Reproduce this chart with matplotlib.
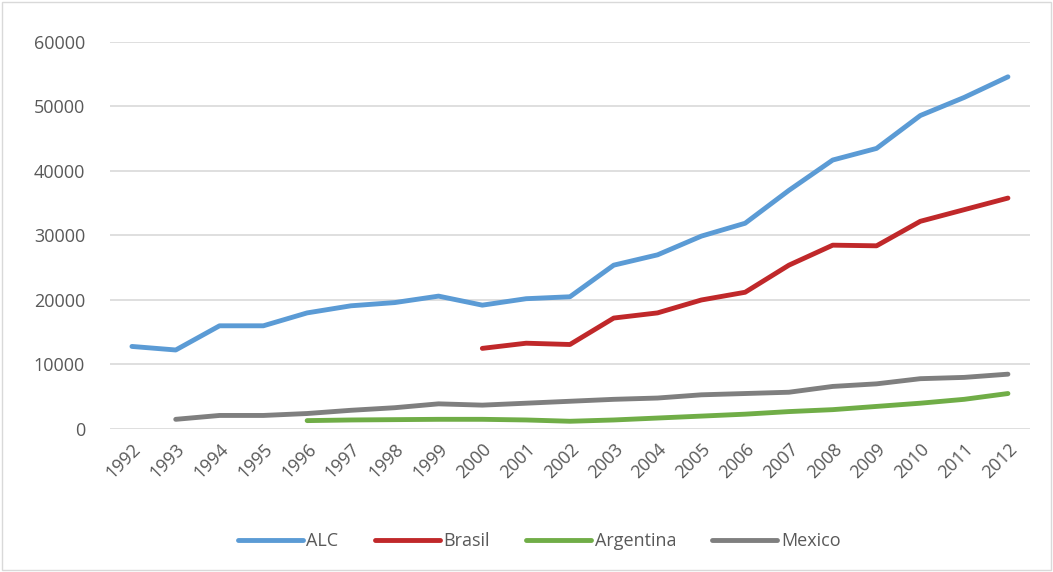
import numpy as np
import matplotlib.pyplot as plt
from matplotlib.patches import Rectangle

plt.rcParams['font.family'] = ['Open Sans', 'DejaVu Sans']

years = list(range(1992, 2013))

alc = [12800, 12250, 16000, 16000, 18000, 19100, 19600, 20600, 19200, 20200,
       20500, 25400, 27000, 29900, 31900, 37000, 41700, 43500, 48600, 51400, 54600]
brasil = [None] * 8 + [12500, 13300, 13100, 17200, 18000, 20000, 21200, 25400,
                       28500, 28400, 32200, 34000, 35800]
argentina = [None] * 4 + [1300, 1400, 1450, 1500, 1500, 1400, 1200, 1400, 1700,
                          2000, 2300, 2700, 3000, 3500, 4000, 4600, 5500]
mexico = [None] + [1500, 2100, 2100, 2400, 2900, 3300, 3900, 3700, 4000, 4300,
                   4600, 4800, 5300, 5500, 5700, 6600, 7000, 7800, 8000, 8500]

series = [("ALC", alc, "#5b9bd5"), ("Brasil", brasil, "#c0282a"),
          ("Argentina", argentina, "#70ad47"), ("Mexico", mexico, "#7f7f7f")]

fig = plt.figure(figsize=(10.53, 5.72), dpi=100)
ax = fig.add_axes([0.1045, 0.25, 0.8735, 0.6766])

for name, vals, color in series:
    y = np.array([np.nan if v is None else v for v in vals], dtype=float)
    ax.plot(years, y, color=color, linewidth=3.5, label=name, solid_capstyle='round')

ax.set_xlim(1991.5, 2012.5)
ax.set_ylim(0, 60000)
ax.set_yticks(range(0, 60001, 10000))
ax.set_xticks(years)
ax.set_xticklabels([str(y) for y in years], rotation=45, ha='right',
                   rotation_mode='anchor')
ax.tick_params(axis='both', length=0, labelsize=13, colors='#595959')
ax.tick_params(axis='x', pad=8)
ax.tick_params(axis='y', pad=18)
ax.grid(axis='y', color='#d9d9d9', linewidth=1.2)
ax.set_axisbelow(True)
for s in ax.spines.values():
    s.set_visible(False)

leg = fig.legend(loc='center', bbox_to_anchor=(0.512, 0.054), ncol=4,
                 frameon=False, fontsize=13, handlelength=3.6, columnspacing=2.0,
                 handletextpad=0.2)
for t in leg.get_texts():
    t.set_color('#595959')

fig.patches.append(Rectangle((0.002, 0.003), 0.996, 0.994, transform=fig.transFigure,
                             fill=False, edgecolor='#d9d9d9', linewidth=1))

fig.savefig("out.png", dpi=100)
